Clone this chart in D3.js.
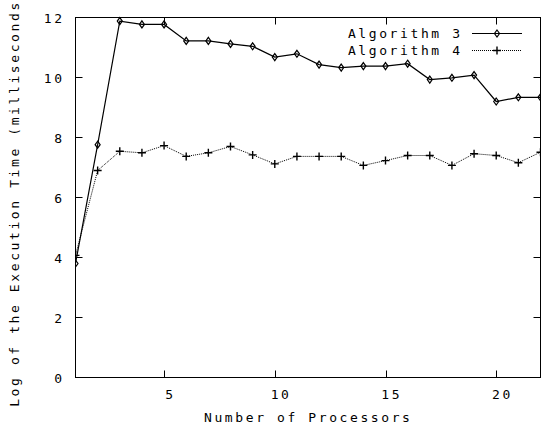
<!DOCTYPE html>
<html>
<head>
<meta charset="utf-8">
<script src="https://cdn.jsdelivr.net/npm/d3@7/dist/d3.min.js"></script>
<style>
  body { margin: 0; background: #fff; }
  svg text { font-family: "DejaVu Sans Mono", monospace; font-size: 13px; letter-spacing: 2.6px; fill: #000; }
</style>
</head>
<body>
<svg id="chart" width="541" height="430"></svg>
<script>
// processors 1..22
const processors = [1,2,3,4,5,6,7,8,9,10,11,12,13,14,15,16,17,18,19,20,21,22];
const algo3 = [3.80,7.76,11.88,11.77,11.77,11.22,11.22,11.12,11.04,10.68,10.79,10.43,
               10.33,10.38,10.38,10.46,9.93,9.99,10.08,9.20,9.34,9.34];
const algo4 = [4.07,6.90,7.54,7.49,7.73,7.37,7.49,7.70,7.42,7.12,7.37,7.37,
               7.37,7.07,7.23,7.40,7.40,7.07,7.46,7.40,7.16,7.51];
const xTicks = [5, 10, 15, 20];
const yTicks = [0, 2, 4, 6, 8, 10, 12];
const seriesNames = ['Algorithm 3', 'Algorithm 4'];

let svg = d3.select('#chart');
let margin = {left: 75.5, right: 540.5, top: 17.5, bottom: 377.5};
const LS = 2.6;  // letter spacing, trailing gap to compensate

let x = d3.scaleLinear().domain([1, 22]).range([margin.left, margin.right]);
let y = d3.scaleLinear().domain([0, 12]).range([margin.bottom, margin.top]);

// clip for data
svg.append('clipPath').attr('id', 'clip')
    .append('rect')
    .attr('x', margin.left).attr('y', margin.top - 4)
    .attr('width', margin.right - margin.left).attr('height', margin.bottom - margin.top + 8);

// frame
svg.append('rect')
    .attr('x', margin.left).attr('y', margin.top)
    .attr('width', margin.right - margin.left)
    .attr('height', margin.bottom - margin.top)
    .attr('fill', 'none').attr('stroke', '#000').attr('stroke-width', 1);

// ticks, mirrored on all sides, pointing in
let ticks = svg.append('g').attr('stroke', '#000').attr('stroke-width', 1);
for (let t of xTicks) {
    let px = Math.round(x(t)) + 0.5;
    ticks.append('line').attr('x1', px).attr('x2', px)
        .attr('y1', margin.bottom).attr('y2', margin.bottom - 7);
    ticks.append('line').attr('x1', px).attr('x2', px)
        .attr('y1', margin.top).attr('y2', margin.top + 7);
}
for (let t of yTicks) {
    let py = Math.round(y(t) - 0.5) + 0.5;
    ticks.append('line').attr('x1', margin.left).attr('x2', margin.left + 7)
        .attr('y1', py).attr('y2', py);
    ticks.append('line').attr('x1', margin.right).attr('x2', margin.right - 7)
        .attr('y1', py).attr('y2', py);
}

// tick labels
svg.append('g').selectAll('text')
    .data(xTicks).enter().append('text')
    .attr('x', d => x(d) + 5 + LS / 2)
    .attr('y', 399)
    .attr('text-anchor', 'middle')
    .text(d => d);
svg.append('g').selectAll('text')
    .data(yTicks).enter().append('text')
    .attr('x', 62 + LS)
    .attr('y', d => y(d) + 5)
    .attr('text-anchor', 'end')
    .text(d => d);

// axis titles
svg.append('text')
    .attr('x', 307 + LS / 2).attr('y', 422)
    .attr('text-anchor', 'middle')
    .text('Number of Processors');
svg.append('text')
    .attr('transform', `translate(19, ${197 + LS / 2}) rotate(-90)`)
    .attr('text-anchor', 'middle')
    .text('Log of the Execution Time (milliseconds)');

// lines
let data3 = processors.map((p, i) => ({x: p, y: algo3[i]}));
let data4 = processors.map((p, i) => ({x: p, y: algo4[i]}));
let lineGen = d3.line().x(d => x(d.x)).y(d => y(d.y));

let plot = svg.append('g').attr('clip-path', 'url(#clip)');
plot.append('path').datum(data3)
    .attr('d', lineGen).attr('fill', 'none')
    .attr('stroke', '#000').attr('stroke-width', 1.2);
plot.append('path').datum(data4)
    .attr('d', lineGen).attr('fill', 'none')
    .attr('stroke', '#000').attr('stroke-width', 1)
    .attr('stroke-dasharray', '1,1');

// markers
let diamond = (cx, cy) => `M${cx},${cy - 3.5}L${cx + 2.5},${cy}L${cx},${cy + 3.5}L${cx - 2.5},${cy}Z`;
let plus = (cx, cy) => `M${cx - 4},${cy}H${cx + 4}M${cx},${cy - 4}V${cy + 4}`;

plot.append('g').selectAll('path')
    .data(data3).enter().append('path')
    .attr('d', d => diamond(x(d.x), y(d.y)))
    .attr('fill', 'none').attr('stroke', '#000').attr('stroke-width', 1.2);
plot.append('g').selectAll('path')
    .data(data4).enter().append('path')
    .attr('d', d => plus(x(d.x), y(d.y)))
    .attr('fill', 'none').attr('stroke', '#000').attr('stroke-width', 1.4);

// legend
let legend = svg.append('g');
let rows = [33, 50];
seriesNames.forEach(function(name, i) {
    legend.append('text')
        .attr('x', 460 + LS).attr('y', rows[i] + 5)
        .attr('text-anchor', 'end')
        .text(name);
    legend.append('line')
        .attr('x1', 472).attr('x2', 522)
        .attr('y1', rows[i] + 0.5).attr('y2', rows[i] + 0.5)
        .attr('stroke', '#000')
        .attr('stroke-width', i == 0 ? 1.2 : 1)
        .attr('stroke-dasharray', i == 0 ? null : '1,1');
    legend.append('path')
        .attr('d', i == 0 ? diamond(497, rows[i] + 0.5) : plus(497, rows[i] + 0.5))
        .attr('fill', 'none').attr('stroke', '#000')
        .attr('stroke-width', i == 0 ? 1.2 : 1.4);
});
</script>
</body>
</html>
